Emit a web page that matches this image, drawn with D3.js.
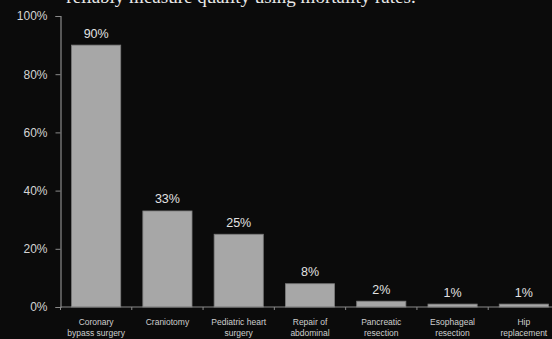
<!DOCTYPE html>
<html><head><meta charset="utf-8">
<script src="https://cdn.jsdelivr.net/npm/d3@7"></script>
<style>
html,body{margin:0;padding:0;background:#0b0b0b;overflow:hidden;}
svg{display:block;}
</style></head>
<body>
<script>
const categories = [
  ["Coronary","bypass surgery"],
  ["Craniotomy"],
  ["Pediatric heart","surgery"],
  ["Repair of","abdominal"],
  ["Pancreatic","resection"],
  ["Esophageal","resection"],
  ["Hip","replacement"]
];
const values = [90, 33, 25, 8, 2, 1, 1];
const valueLabels = ["90%","33%","25%","8%","2%","1%","1%"];
const yTicks = [0, 20, 40, 60, 80, 100];
const title = "reliably measure quality using mortality rates.";

const W = 552, H = 339;
const svg = d3.select("body").append("svg").attr("width", W).attr("height", H);
svg.append("rect").attr("width", W).attr("height", H).attr("fill", "#0b0b0b");

const x0 = 60.5, x1 = 559.5, yTop = 16, yBot = 307;
const x = d3.scaleBand().domain(d3.range(categories.length)).range([x0, x1]).paddingInner(0.31).paddingOuter(0.155);
const y = d3.scaleLinear().domain([0, 100]).range([yBot, yTop]);

// title (cut off at top, as in the reference)
svg.append("text").attr("x", 241).attr("y", 2.5)
  .attr("text-anchor", "middle")
  .attr("font-family", "Liberation Serif, DejaVu Serif, serif")
  .attr("font-size", 19).attr("fill", "#e8e8e8").text(title);

// y axis
const yAxis = d3.axisLeft(y).tickValues(yTicks).tickSize(5).tickPadding(8).tickFormat(d => d + "%");
const gy = svg.append("g").attr("transform", `translate(${x0},0)`).call(yAxis);
gy.select(".domain").attr("stroke", "#8a8a8a").attr("stroke-width", 1.2);
gy.selectAll(".tick line").attr("stroke", "#8a8a8a");
gy.selectAll(".tick text").attr("fill", "#d4d4d4")
  .attr("font-family", "Liberation Sans, Arial, sans-serif").attr("font-size", 12);

// bars
svg.selectAll("rect.bar").data(values).join("rect").attr("class", "bar")
  .attr("x", (d, i) => x(i)).attr("width", x.bandwidth())
  .attr("y", d => y(d)).attr("height", d => yBot - y(d))
  .attr("fill", "#a7a7a7").attr("stroke", "#7a7a7a").attr("stroke-width", 0.8);

// value labels
svg.selectAll("text.val").data(values).join("text").attr("class", "val")
  .attr("x", (d, i) => x(i) + x.bandwidth() / 2)
  .attr("y", d => y(d) - 7.5)
  .attr("text-anchor", "middle")
  .attr("font-family", "Liberation Sans, Arial, sans-serif").attr("font-size", 12.5)
  .attr("fill", "#e2e2e2")
  .text((d, i) => valueLabels[i]);

// x axis
const boundaries = d3.range(categories.length + 1).map(i => x0 + i * (x1 - x0) / categories.length);
const gx = svg.append("g");
gx.append("line").attr("x1", x0).attr("x2", x1).attr("y1", yBot).attr("y2", yBot)
  .attr("stroke", "#8a8a8a").attr("stroke-width", 1.2);
gx.selectAll("line.tk").data(boundaries).join("line").attr("class", "tk")
  .attr("x1", d => d).attr("x2", d => d).attr("y1", yBot).attr("y2", yBot + 3)
  .attr("stroke", "#8a8a8a");

// category labels
const cl = svg.selectAll("text.cat").data(categories).join("text").attr("class", "cat")
  .attr("text-anchor", "middle")
  .attr("font-family", "Liberation Sans, Arial, sans-serif").attr("font-size", 8.5)
  .attr("fill", "#cfcfcf");
cl.each(function(d, i) {
  const t = d3.select(this);
  d.forEach((line, j) => {
    t.append("tspan").attr("x", x(i) + x.bandwidth() / 2).attr("y", 325 + j * 11).text(line);
  });
});
</script>
</body></html>
